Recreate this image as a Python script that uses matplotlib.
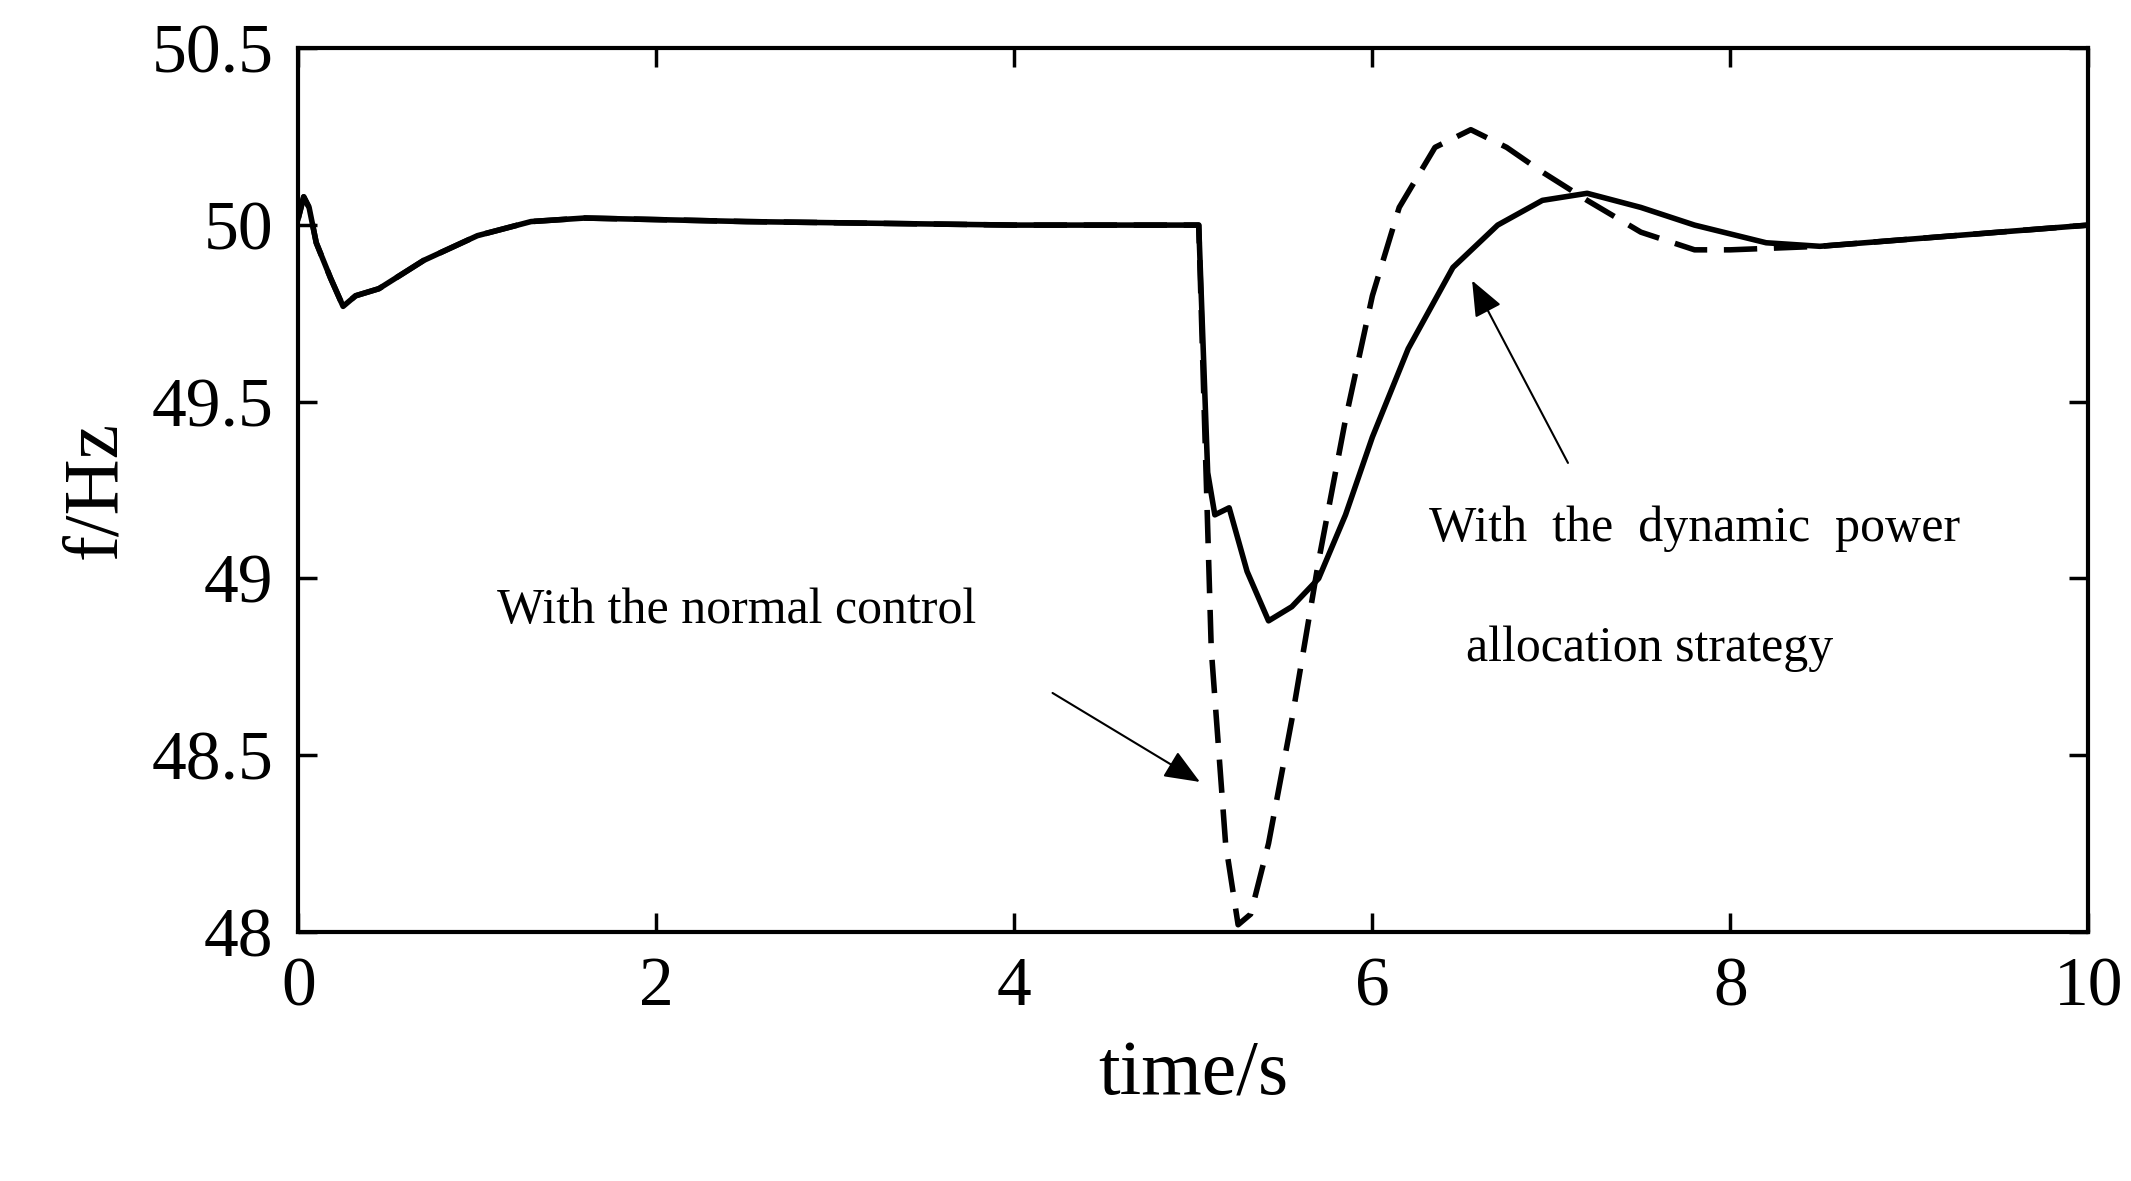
import matplotlib
matplotlib.use("Agg")
import matplotlib.pyplot as plt

t_solid = [0, 0.03, 0.06, 0.1, 0.18, 0.25, 0.32, 0.45, 0.7, 1.0, 1.3, 1.6, 2.5, 4.0, 5.03, 5.08, 5.12, 5.2, 5.3, 5.42, 5.55, 5.7, 5.85, 6.0, 6.2, 6.45, 6.7, 6.95, 7.2, 7.5, 7.8, 8.2, 8.5, 9.0, 9.5, 10]
f_solid = [50.02, 50.08, 50.05, 49.95, 49.85, 49.77, 49.8, 49.82, 49.9, 49.97, 50.01, 50.02, 50.01, 50.0, 50.0, 49.3, 49.18, 49.2, 49.02, 48.88, 48.92, 49.0, 49.18, 49.4, 49.65, 49.88, 50.0, 50.07, 50.09, 50.05, 50.0, 49.95, 49.94, 49.96, 49.98, 50.0]
t_dash = [0, 0.03, 0.06, 0.1, 0.18, 0.25, 0.32, 0.45, 0.7, 1.0, 1.3, 1.6, 2.5, 4.0, 5.03, 5.1, 5.18, 5.25, 5.32, 5.42, 5.55, 5.7, 5.85, 6.0, 6.15, 6.35, 6.55, 6.75, 6.95, 7.2, 7.5, 7.8, 8.0, 8.5, 9.0, 9.5, 10]
f_dash = [50.02, 50.08, 50.05, 49.95, 49.85, 49.77, 49.8, 49.82, 49.9, 49.97, 50.01, 50.02, 50.01, 50.0, 50.0, 48.8, 48.25, 48.02, 48.05, 48.25, 48.6, 49.05, 49.45, 49.8, 50.05, 50.22, 50.27, 50.22, 50.15, 50.07, 49.98, 49.93, 49.93, 49.94, 49.96, 49.98, 50.0]

plt.rcParams['font.family'] = ['Liberation Serif', 'DejaVu Serif']
fig = plt.figure(figsize=(21.31, 11.81), dpi=100)
ax = fig.add_axes([0.140, 0.211, 0.840, 0.748])
ax.plot(t_dash, f_dash, color='black', lw=4, ls=(0, (6, 3)))
ax.plot(t_solid, f_solid, color='black', lw=4)
ax.set_xlim(0, 10)
ax.set_ylim(48, 50.5)
ax.set_xticks([0, 2, 4, 6, 8, 10])
ax.set_yticks([48, 48.5, 49, 49.5, 50, 50.5])
ax.set_yticklabels(['48', '48.5', '49', '49.5', '50', '50.5'])
ax.tick_params(labelsize=50, direction='in', length=14, width=2.5, top=True, right=True, pad=18)
for s in ax.spines.values():
    s.set_linewidth(3)
ax.set_xlabel('time/s', fontsize=56, labelpad=14)
ax.set_ylabel('f/Hz', fontsize=56, labelpad=14)
ax.text(2.45, 48.91, 'With the normal control', fontsize=36, ha='center', va='center')
ax.text(7.8, 49.14, 'With  the  dynamic  power', fontsize=36, ha='center', va='center')
ax.text(7.55, 48.8, 'allocation strategy', fontsize=36, ha='center', va='center')
ax.annotate('', xy=(5.05, 48.42), xytext=(4.2, 48.68),
            arrowprops=dict(arrowstyle='-|>,head_length=2.2,head_width=0.9', color='black', lw=1.5))
ax.annotate('', xy=(6.55, 49.85), xytext=(7.1, 49.32),
            arrowprops=dict(arrowstyle='-|>,head_length=2.2,head_width=0.9', color='black', lw=1.5))
fig.savefig('out.png', dpi=100)
